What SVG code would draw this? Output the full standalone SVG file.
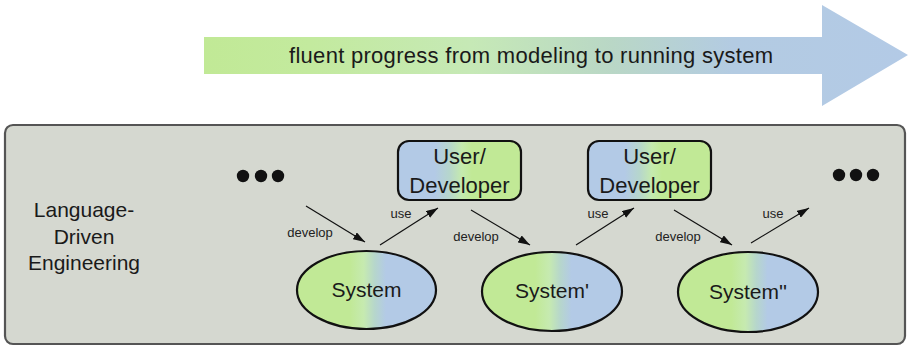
<svg xmlns="http://www.w3.org/2000/svg" width="908" height="347" viewBox="0 0 908 347">
  <defs>
    <linearGradient id="gProgress" gradientUnits="userSpaceOnUse" x1="204" y1="0" x2="908" y2="0">
      <stop offset="0" stop-color="#c1e996"/>
      <stop offset="0.15" stop-color="#c3ea9e"/>
      <stop offset="0.38" stop-color="#c6e9b6"/>
      <stop offset="0.58" stop-color="#b9d7c6"/>
      <stop offset="0.75" stop-color="#b3cbe2"/>
      <stop offset="1" stop-color="#b3cae6"/>
    </linearGradient>
    <linearGradient id="gUser" x1="0" y1="0" x2="1" y2="0">
      <stop offset="0" stop-color="#b3cae6"/>
      <stop offset="0.3" stop-color="#b3cae6"/>
      <stop offset="0.42" stop-color="#b6d6cc"/>
      <stop offset="0.52" stop-color="#c5eaae"/>
      <stop offset="0.6" stop-color="#c1e996"/>
      <stop offset="1" stop-color="#c1e996"/>
    </linearGradient>
    <linearGradient id="gSystem" x1="0" y1="0" x2="1" y2="0">
      <stop offset="0" stop-color="#c1e996"/>
      <stop offset="0.38" stop-color="#c1e996"/>
      <stop offset="0.48" stop-color="#c6eab0"/>
      <stop offset="0.56" stop-color="#b6d6cc"/>
      <stop offset="0.64" stop-color="#b3cae6"/>
      <stop offset="1" stop-color="#b3cae6"/>
    </linearGradient>
    <marker id="arrow" viewBox="0 0 12 8" refX="12" refY="4" markerWidth="12" markerHeight="8" markerUnits="userSpaceOnUse" orient="auto">
      <path d="M0,0 L12,4 L0,8 Z" fill="#111"/>
    </marker>
  </defs>
  <style>
    text { font-family: "Liberation Sans", Arial, sans-serif; fill: #1a1a1a; }
    .big { font-size: 21px; text-anchor: middle; }
    .usr { font-size: 22px; text-anchor: middle; }
    .lbl { font-size: 13px; text-anchor: middle; fill: #222; }
    .node { stroke: #111; stroke-width: 2.2; }
    .edge { stroke: #111; stroke-width: 1.2; fill: none; marker-end: url(#arrow); }
    .dot { fill: #111; }
  </style>

  <!-- progress arrow -->
  <g id="progress">
    <path d="M204,37 H822 V5 L908,55 L822,106 V74 H204 Z" fill="url(#gProgress)"/>
    <text x="289" y="63" textLength="484" lengthAdjust="spacing" style="font-size:22px">fluent progress from modeling to running system</text>
  </g>

  <!-- panel -->
  <g id="panel">
    <rect x="5" y="125" width="900" height="219" rx="8" fill="#d5d8d0" stroke="#555" stroke-width="2.2"/>
    <text class="big" x="84" y="217">Language-</text>
    <text class="big" x="84" y="244">Driven</text>
    <text class="big" x="84" y="270">Engineering</text>
  </g>

  <g id="dots-left">
    <circle class="dot" cx="243" cy="176" r="6.2"/>
    <circle class="dot" cx="261" cy="176" r="6.2"/>
    <circle class="dot" cx="278" cy="176" r="6.2"/>
  </g>
  <g id="dots-right">
    <circle class="dot" cx="839" cy="175" r="6.2"/>
    <circle class="dot" cx="856" cy="175" r="6.2"/>
    <circle class="dot" cx="873" cy="175" r="6.2"/>
  </g>

  <g id="user1">
    <rect class="node" x="398" y="141" width="123" height="59" rx="11" fill="url(#gUser)"/>
    <text class="usr" x="459.5" y="164">User/</text>
    <text class="usr" x="459.5" y="193">Developer</text>
  </g>
  <g id="user2">
    <rect class="node" x="588" y="141" width="123" height="59" rx="11" fill="url(#gUser)"/>
    <text class="usr" x="649.5" y="164">User/</text>
    <text class="usr" x="649.5" y="193">Developer</text>
  </g>

  <g id="system1">
    <ellipse class="node" cx="366.5" cy="290" rx="69.5" ry="39" fill="url(#gSystem)"/>
    <text class="big" x="366.5" y="297">System</text>
  </g>
  <g id="system2">
    <ellipse class="node" cx="552" cy="291.5" rx="70" ry="39.5" fill="url(#gSystem)"/>
    <text class="big" x="552" y="298">System'</text>
  </g>
  <g id="system3">
    <ellipse class="node" cx="748" cy="292" rx="70" ry="40" fill="url(#gSystem)"/>
    <text class="big" x="748" y="299">System''</text>
  </g>

  <!-- connectors -->
  <g id="connectors">
    <line class="edge" x1="306" y1="206" x2="365" y2="242"/>
    <line class="edge" x1="380" y1="245" x2="438" y2="208"/>
    <line class="edge" x1="471" y1="210" x2="530" y2="245"/>
    <line class="edge" x1="576" y1="245" x2="634" y2="208"/>
    <line class="edge" x1="674" y1="210" x2="732" y2="245"/>
    <line class="edge" x1="751" y1="243" x2="809" y2="208"/>
    <text class="lbl" x="310" y="237">develop</text>
    <text class="lbl" x="401" y="218">use</text>
    <text class="lbl" x="476" y="241">develop</text>
    <text class="lbl" x="598" y="218">use</text>
    <text class="lbl" x="678" y="241">develop</text>
    <text class="lbl" x="773" y="218">use</text>
  </g>
</svg>
